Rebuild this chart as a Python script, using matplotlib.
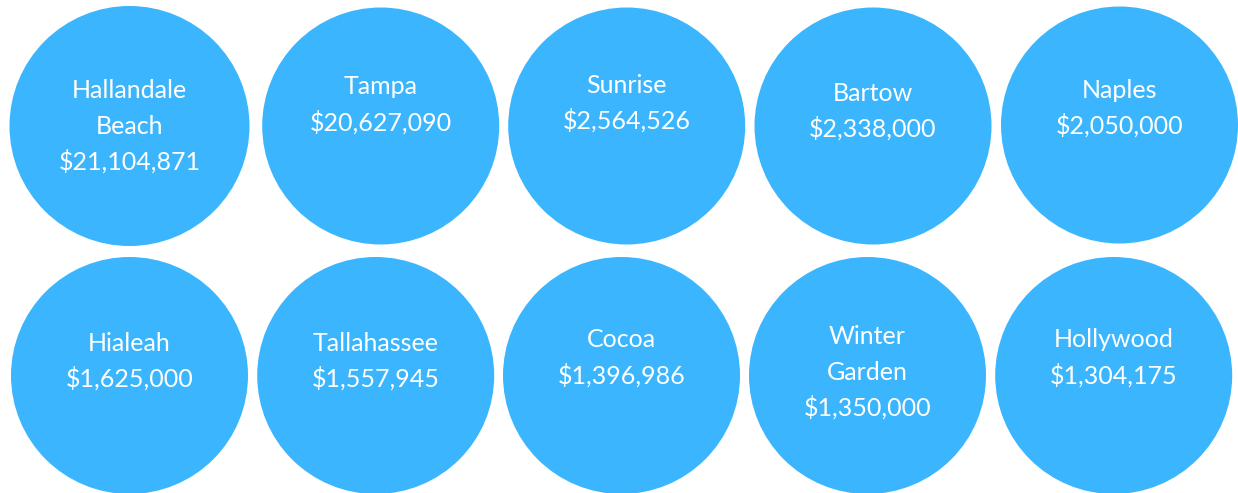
import matplotlib
matplotlib.use("Agg")
import matplotlib.pyplot as plt
from matplotlib.patches import Circle

# city names (line breaks as shown) and amounts
cities = ["Hallandale\nBeach", "Tampa", "Sunrise", "Bartow", "Naples",
          "Hialeah", "Tallahassee", "Cocoa", "Winter\nGarden", "Hollywood"]
amounts = [21104871, 20627090, 2564526, 2338000, 2050000,
           1625000, 1557945, 1396986, 1350000, 1304175]

# layout (pixels)
cx = [129.5, 380.7, 626.7, 873.0, 1119.5,
      129.5, 375.7, 621.5, 867.5, 1113.7]
cy = [126, 126, 126, 126, 125,
      375.5, 375.5, 375.5, 375.5, 375.5]
radius = [120, 118.5, 118.5, 118.5, 118.5,
          118.5, 118.5, 118.5, 118.5, 118.5]
first_base = [98, 94.3, 93, 100.7, 97.7,
              351, 351, 347.3, 344, 347.3]
line_gap = 36

W, H = 1238, 493
fig = plt.figure(figsize=(W / 100, H / 100), dpi=100)
ax = fig.add_axes([0, 0, 1, 1])
ax.set_xlim(0, W)
ax.set_ylim(H, 0)
ax.set_aspect("equal")
ax.axis("off")

blue = "#3bb6fe"
for i in range(len(cities)):
    ax.add_patch(Circle((cx[i], cy[i]), radius[i], color=blue, lw=0))
    lines = cities[i].split("\n") + ["${:,}".format(amounts[i])]
    for k, s in enumerate(lines):
        ax.text(cx[i], first_base[i] + k * line_gap, s, ha="center",
                va="baseline", color="white", fontsize=18,
                family="Lato")

fig.savefig("out.png", dpi=100, facecolor="white")
